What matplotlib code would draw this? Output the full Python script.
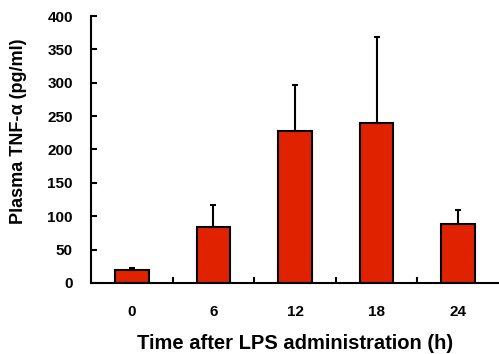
import matplotlib.pyplot as plt

# Data
times = ["0", "6", "12", "18", "24"]
means = [20, 84, 227, 239, 88]
upper_err = [3, 33, 70, 130, 21]

plt.rcParams["font.family"] = ["Liberation Sans", "DejaVu Sans"]

fig = plt.figure(figsize=(4.99, 3.54), dpi=100)
ax = fig.add_axes([0.1824, 0.2006, 0.8176, 0.7542])

x = list(range(len(times)))
ax.bar(x, means, width=0.41, color="#e02200", edgecolor="black", linewidth=1.5, zorder=2)
ax.errorbar(x, means, yerr=[[0] * len(times), upper_err], fmt="none",
            ecolor="black", elinewidth=1.5, capsize=2.5, capthick=1.5, zorder=3)

ax.set_xlim(-0.5, 4.5)
ax.set_ylim(0, 400)
ax.set_yticks(range(0, 401, 50))
ax.set_xticks(x)
ax.set_xticklabels(times)
ax.set_xticks([0.5, 1.5, 2.5, 3.5], minor=True)

ax.tick_params(axis="x", which="major", length=0, pad=16, labelsize=11)
ax.tick_params(axis="x", which="minor", direction="in", length=4, width=1.5)
ax.tick_params(axis="y", direction="in", length=4, width=1.5, pad=13, labelsize=11)
for lab in ax.get_xticklabels() + ax.get_yticklabels():
    lab.set_fontweight("bold")

for s in ["top", "right"]:
    ax.spines[s].set_visible(False)
for s in ["left", "bottom"]:
    ax.spines[s].set_linewidth(1.5)

ax.set_xlabel("Time after LPS administration (h)", fontsize=14.5, fontweight="bold", labelpad=11)
ax.set_ylabel("Plasma TNF-α (pg/ml)", fontsize=13, fontweight="bold")
ax.yaxis.set_label_coords(-0.158, 0.57)

fig.savefig("out.png", dpi=100)
